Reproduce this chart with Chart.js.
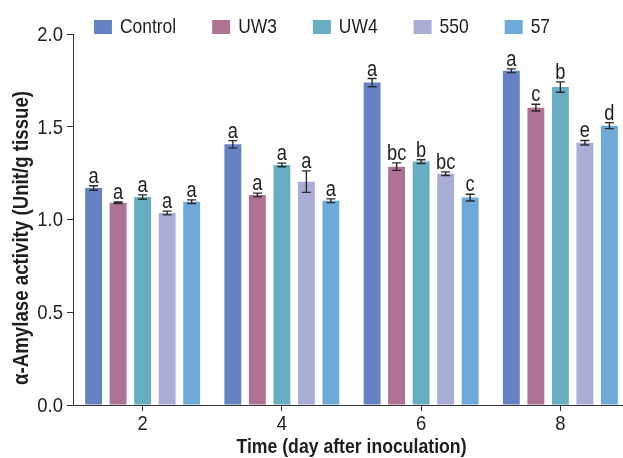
<!DOCTYPE html>
<html>
<head>
<meta charset="utf-8">
<script src="https://cdn.jsdelivr.net/npm/chart.js@4"></script>
<style>
  html, body { margin: 0; padding: 0; background: #fff; overflow: hidden; }
  #wrap { position: relative; width: 640px; height: 458px; }
</style>
</head>
<body>
<div id="wrap">
  <canvas id="amylaseChart"></canvas>
</div>
<script>
const days = ["2", "4", "6", "8"];
const seriesNames = ["Control", "UW3", "UW4", "550", "57"];
const seriesColors = ["#6583c4", "#b07294", "#67aec2", "#aaaed7", "#6eaad9"];

const controlValues = [1.170, 1.405, 1.738, 1.802];
const uw3Values = [1.090, 1.132, 1.285, 1.603];
const uw4Values = [1.121, 1.294, 1.312, 1.714];
const s550Values = [1.035, 1.204, 1.247, 1.414];
const s57Values = [1.096, 1.101, 1.118, 1.506];

const controlErr = [0.012, 0.020, 0.022, 0.010];
const uw3Err = [0.004, 0.010, 0.020, 0.018];
const uw4Err = [0.012, 0.010, 0.010, 0.028];
const s550Err = [0.010, 0.058, 0.010, 0.012];
const s57Err = [0.010, 0.010, 0.018, 0.016];

const controlLetters = ["a", "a", "a", "a"];
const uw3Letters = ["a", "a", "bc", "c"];
const uw4Letters = ["a", "a", "b", "b"];
const s550Letters = ["a", "a", "bc", "e"];
const s57Letters = ["a", "a", "c", "d"];

const yTicks = [0, 0.5, 1.0, 1.5, 2.0];

const FONT = '"Liberation Sans", Arial, sans-serif';
const TEXT_COLOR = "#1e1e1e";

// draws text squeezed horizontally, like a condensed Helvetica
function narrowText(ctx, text, x, y, font, squeeze, align, baseline, angle) {
  ctx.save();
  ctx.font = font;
  ctx.textAlign = align || "center";
  ctx.textBaseline = baseline || "middle";
  ctx.fillStyle = TEXT_COLOR;
  ctx.translate(x, y);
  if (angle) ctx.rotate(angle);
  ctx.scale(squeeze, 1);
  ctx.fillText(text, 0, 0);
  ctx.restore();
}

function createAmylaseChart() {
  const values = [controlValues, uw3Values, uw4Values, s550Values, s57Values];
  const errors = [controlErr, uw3Err, uw4Err, s550Err, s57Err];
  const letters = [controlLetters, uw3Letters, uw4Letters, s550Letters, s57Letters];

  const data = {
    labels: days,
    datasets: seriesNames.map((name, i) => ({
      label: name,
      data: values[i],
      backgroundColor: seriesColors[i],
      borderWidth: 0,
      categoryPercentage: 0.88,
      barPercentage: 0.69,
    })),
  };

  // error bars + significance letters
  const errorBars = {
    id: "errorBars",
    afterDatasetsDraw(chart) {
      const ctx = chart.ctx;
      const y = chart.scales.y;
      ctx.save();
      ctx.strokeStyle = "#2a2a2a";
      ctx.lineWidth = 1.4;
      chart.data.datasets.forEach((ds, i) => {
        chart.getDatasetMeta(i).data.forEach((bar, j) => {
          const v = ds.data[j], e = errors[i][j];
          const top = y.getPixelForValue(v + e);
          const bot = y.getPixelForValue(v - e);
          ctx.beginPath();
          ctx.moveTo(bar.x, top); ctx.lineTo(bar.x, bot);
          ctx.moveTo(bar.x - 4.5, top); ctx.lineTo(bar.x + 4.5, top);
          ctx.moveTo(bar.x - 4.5, bot); ctx.lineTo(bar.x + 4.5, bot);
          ctx.stroke();
          narrowText(ctx, letters[i][j], bar.x, top - 3, "22px " + FONT, 0.83, "center", "alphabetic");
        });
      });
      ctx.restore();
    },
  };

  // tick labels, axis titles, legend in the narrow face
  const textLayer = {
    id: "textLayer",
    afterDraw(chart) {
      const ctx = chart.ctx;
      const xs = chart.scales.x, ys = chart.scales.y;
      const tickFont = "21px " + FONT;
      xs.ticks.forEach((t, i) => {
        narrowText(ctx, xs.getLabelForValue(t.value), xs.getPixelForTick(i), 424, tickFont, 0.88);
      });
      ys.ticks.forEach((t) => {
        narrowText(ctx, Number(t.value).toFixed(1), ys.left + ys.width - 10, ys.getPixelForValue(t.value) + 1, tickFont, 0.88, "right");
      });

      narrowText(ctx, "Time (day after inoculation)", (chart.chartArea.left + chart.chartArea.right) / 2, 447,
        "bold 21px " + FONT, 0.84);
      narrowText(ctx, "\u03B1-Amylase activity (Unit/g tissue)", 22, 238,
        "bold 22px " + FONT, 0.85, "center", "middle", -Math.PI / 2);

      // legend
      const legendFont = "21px " + FONT, squeeze = 0.83;
      const boxW = 18, boxH = 14, boxGap = 8, itemGap = 36;
      ctx.save();
      ctx.font = legendFont;
      const widths = seriesNames.map((n) => ctx.measureText(n).width * squeeze);
      ctx.restore();
      const total = widths.reduce((s, w) => s + boxW + boxGap + w, 0) + itemGap * (seriesNames.length - 1);
      let x = 322 - total / 2;
      seriesNames.forEach((name, i) => {
        ctx.save();
        ctx.fillStyle = seriesColors[i];
        ctx.fillRect(x, 27 - boxH / 2, boxW, boxH);
        ctx.restore();
        narrowText(ctx, name, x + boxW + boxGap, 27, legendFont, squeeze, "left", "middle");
        x += boxW + boxGap + widths[i] + itemGap;
      });
    },
  };

  const config = {
    type: "bar",
    data: data,
    options: {
      responsive: true,
      maintainAspectRatio: false,
      animation: false,
      layout: { padding: { top: 34, right: 10, left: 0, bottom: 0 } },
      scales: {
        x: {
          grid: { display: true, drawOnChartArea: false, offset: false, tickLength: 6, color: "#333" },
          border: { display: true, color: "#333", width: 1 },
          ticks: { display: false },
          afterFit: (scale) => { scale.height = 53; },
        },
        y: {
          min: 0,
          max: 2,
          afterBuildTicks: (scale) => { scale.ticks = yTicks.map((v) => ({ value: v })); },
          grid: { display: true, drawOnChartArea: false, tickLength: 6, color: "#333" },
          border: { display: true, color: "#333", width: 1 },
          ticks: { display: false },
          afterFit: (scale) => { scale.width = 73; },
        },
      },
      plugins: {
        legend: { display: false },
        tooltip: { enabled: false },
      },
    },
    plugins: [errorBars, textLayer],
  };

  new Chart(document.getElementById("amylaseChart"), config);
}

document.addEventListener("DOMContentLoaded", () => {
  createAmylaseChart();
});
</script>
</body>
</html>
